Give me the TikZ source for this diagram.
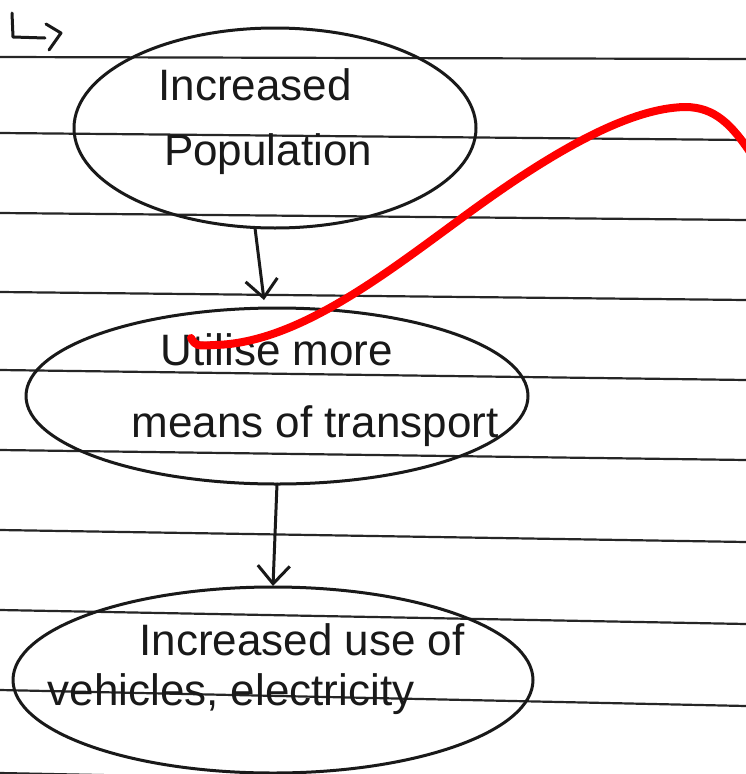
\documentclass[tikz,border=0pt]{standalone}
\usepackage{fontspec}
\setmainfont{Liberation Sans}
\usetikzlibrary{shapes.geometric,arrows.meta}
\tikzset{
  paperline/.style={line width=2.2pt, draw=black!85},
  ink/.style={line width=3pt, draw=black!90, line cap=round, line join=round},
  bubble/.style={ink, ellipse, inner sep=0pt, outer sep=0pt},
  hand/.style={font=\fontsize{44}{50}\selectfont, text=black!90, inner sep=0pt, anchor=base},
  flow/.style={ink, -{Straight Barb[length=18pt,width=32pt,line width=3pt]}},
  redmark/.style={line width=8pt, draw=red, line cap=round, line join=round}
}
\begin{document}
\begin{tikzpicture}[x=1pt,y=-1pt]
\useasboundingbox (0,0) rectangle (746,774);
\fill[white] (0,0) rectangle (746,774);
% ruled paper lines
\foreach \l/\r in {57/59,133/140,213/220,292/300,370/380,450/460,530/542,610/624,690/706,773/788}
  \draw[paperline] (0,\l) -- (746,\r);
% corner mark
\draw[ink] (12,13) -- (13,37) -- (45,38);
\draw[ink] (46,24) -- (61,33) -- (49,50);
% bubbles
\node[bubble, minimum width=402pt, minimum height=200pt] (e1) at (275,128) {};
\node[bubble, minimum width=502pt, minimum height=176pt] (e2) at (277,396) {};
\node[bubble, minimum width=520pt, minimum height=186pt] (e3) at (273,680) {};
% texts
\node[hand] (t1a) at (255,100) {Increased};
\node[hand] (t1b) at (268,165) {Population};
\node[hand] (t2a) at (277,365) {Utilise more};
\node[hand] (t2b) at (315,437) {means of transport};
\node[hand] (t3a) at (302,655) {Increased use of};
\node[hand] (t3b) at (231,705) {vehicles, electricity};
% connectors
\draw[flow] ([xshift=-20pt]e1.south) -- ([xshift=-13pt,yshift=8pt]e2.north);
\draw[flow] (e2.south) -- ([yshift=1pt]e3.north);
% red stroke
\draw[redmark] (191,338) .. controls (196,346) .. (215,345)
  .. controls (300,343) and (390,270) .. (470,212)
  .. controls (555,150) and (630,108) .. (685,107)
  .. controls (715,107) and (732,125) .. (752,155);
\end{tikzpicture}
\end{document}
